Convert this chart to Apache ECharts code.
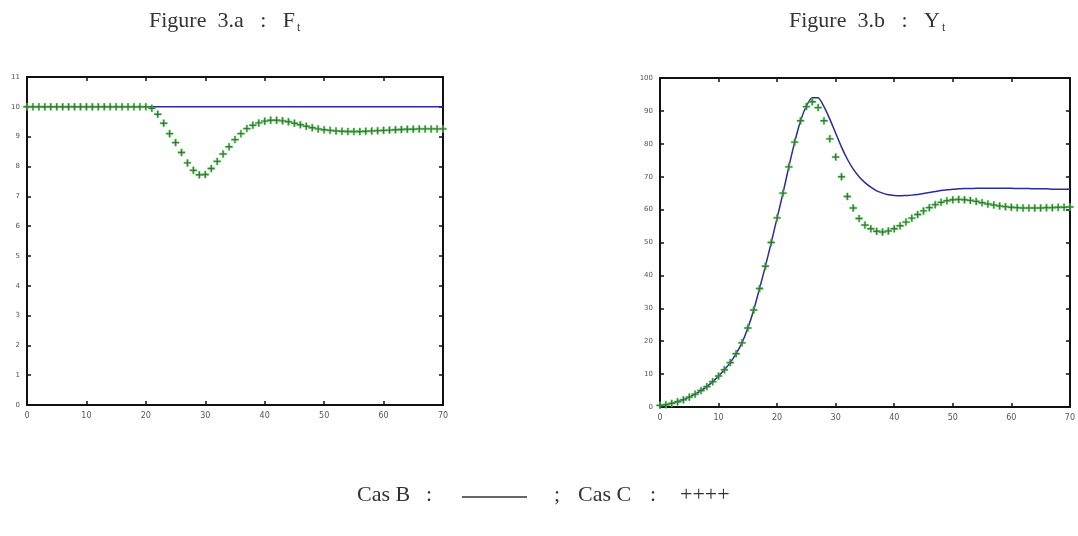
<!DOCTYPE html>
<html>
<head>
<meta charset="utf-8">
<script src="https://cdn.jsdelivr.net/npm/echarts@6/dist/echarts.min.js"></script>
<style>
  html, body { margin: 0; padding: 0; background: #fff; }
  #main { width: 1078px; height: 536px; }
</style>
</head>
<body>
<div id="main"></div>
<script>
// temps t = 0..70
const tValues = [0,1,2,3,4,5,6,7,8,9,10,11,12,13,14,15,16,17,18,19,20,21,22,23,24,25,26,27,28,29,30,
  31,32,33,34,35,36,37,38,39,40,41,42,43,44,45,46,47,48,49,50,51,52,53,54,55,56,57,58,59,60,
  61,62,63,64,65,66,67,68,69,70]
const xTicks = [0, 10, 20, 30, 40, 50, 60, 70]

// Figure 3.a : F_t
const fCasB = [10,10,10,10,10,10,10,10,10,10,10,10,10,10,10,10,10,10,10,10,10,10,10,10,10,10,10,10,10,10,10,
  10,10,10,10,10,10,10,10,10,10,10,10,10,10,10,10,10,10,10,10,10,10,10,10,10,10,10,10,10,10,
  10,10,10,10,10,10,10,10,10,10]
const fCasC = [10,10,10,10,10,10,10,10,10,10,10,10,10,10,10,10,10,10,10,10,10,
  9.95,9.75,9.45,9.1,8.8,8.47,8.12,7.87,7.72,7.73,
  7.93,8.17,8.42,8.66,8.9,9.1,9.27,9.38,9.46,9.52,
  9.55,9.55,9.53,9.5,9.45,9.4,9.35,9.3,9.26,9.23,
  9.21,9.19,9.18,9.17,9.17,9.17,9.18,9.19,9.2,9.21,
  9.22,9.23,9.24,9.25,9.25,9.26,9.26,9.26,9.26,9.26]

// Figure 3.b : Y_t
const yCasB = [0.5,0.7,1.1,1.6,2.2,3.0,3.9,5.0,6.2,7.7,9.4,
  11.3,13.5,16.2,19.5,24,29.5,36,42.8,50,57.5,
  65,73,80.5,87,91.5,94,94,91.3,87.5,83.2,
  79,75.3,72.3,70,68.2,66.8,65.7,65,64.5,64.3,
  64.2,64.3,64.4,64.6,64.9,65.2,65.5,65.8,66,66.2,
  66.3,66.4,66.4,66.5,66.5,66.5,66.5,66.5,66.5,66.5,
  66.4,66.4,66.4,66.3,66.3,66.3,66.2,66.2,66.2,66.2]
const yCasC = [0.5,0.7,1.1,1.6,2.2,3.0,3.9,5.0,6.2,7.7,9.4,
  11.3,13.5,16.2,19.5,24,29.5,36,42.8,50,57.5,
  65,73,80.5,87,91.3,92.8,91,87,81.5,76,
  70,64,60.5,57.3,55.3,54.2,53.4,53.2,53.5,54.2,
  55.1,56.2,57.4,58.5,59.6,60.6,61.5,62.2,62.7,63,
  63.1,63,62.8,62.5,62.1,61.7,61.4,61.1,60.9,60.7,
  60.6,60.5,60.5,60.5,60.5,60.6,60.6,60.7,60.7,60.8]

const plus = 'path://M4,0H6V4H10V6H6V10H4V6H0V4H4Z'
const serif = 'Liberation Serif'

function pairs(vals) {
  return tValues.map((t, i) => [t, vals[i]])
}

function xAxes(gi) {
  const base = {
    gridIndex: gi, type: 'value', min: 0, max: 70, interval: 10,
    axisLine: { onZero: false, lineStyle: { color: '#111', width: 2 } },
    axisTick: { inside: true, length: 4, lineStyle: { color: '#111', width: 1.5 } },
    splitLine: { show: false }
  }
  return [
    Object.assign({}, base, {
      position: 'bottom',
      axisLabel: { fontSize: 8, color: '#555', margin: 7, fontFamily: 'DejaVu Sans',
        formatter: v => xTicks.includes(v) ? String(v) : '' }
    }),
    Object.assign({}, base, { position: 'top', axisLabel: { show: false } })
  ]
}

function yAxes(gi, max, step) {
  const base = {
    gridIndex: gi, type: 'value', min: 0, max: max, interval: step,
    axisLine: { show: true, onZero: false, lineStyle: { color: '#111', width: 2 } },
    axisTick: { show: true, inside: true, length: 4, lineStyle: { color: '#111', width: 1.5 } },
    splitLine: { show: false }
  }
  return [
    Object.assign({}, base, {
      position: 'left',
      axisLabel: { fontSize: 7, color: '#555', margin: 7, fontFamily: 'DejaVu Sans' }
    }),
    Object.assign({}, base, { position: 'right', axisLabel: { show: false } })
  ]
}

const titleRich = {
  base: { fontFamily: serif, fontSize: 22, color: '#333', lineHeight: 26 },
  sub: { fontFamily: serif, fontSize: 12, color: '#333', verticalAlign: 'bottom', lineHeight: 26, padding: [9, 0, 0, 2] }
}

function txt(x, y, text, rich) {
  return {
    type: 'text', left: x, top: y,
    style: { text: text, fill: '#333', font: '22px "' + serif + '"', rich: rich }
  }
}

const chart = echarts.init(document.getElementById('main'))
chart.setOption({
  animation: false,
  backgroundColor: '#fff',
  graphic: [
    txt(149, 10, '{base|Figure  3.a   :   F}{sub|t}', titleRich),
    txt(789, 10, '{base|Figure  3.b   :   Y}{sub|t}', titleRich),
    txt(357, 484, 'Cas B'),
    txt(426, 484, ':'),
    { type: 'line', shape: { x1: 462, y1: 497, x2: 527, y2: 497 }, style: { stroke: '#333', lineWidth: 1.5 } },
    txt(554, 484, ';'),
    txt(578, 484, 'Cas C'),
    txt(650, 484, ':'),
    txt(680, 484, '++++')
  ],
  grid: [
    { left: 27, top: 77, width: 416, height: 328 },
    { left: 660, top: 78, width: 413, height: 329 }
  ],
  xAxis: xAxes(0).concat(xAxes(1)),
  yAxis: yAxes(0, 11, 1).concat(yAxes(1, 100, 10)),
  series: [
    { name: 'Cas B', type: 'line', xAxisIndex: 0, yAxisIndex: 0, data: pairs(fCasB),
      showSymbol: false, lineStyle: { color: '#2b2b9c', width: 1.5 } },
    { name: 'Cas C', type: 'line', xAxisIndex: 0, yAxisIndex: 0, data: pairs(fCasC),
      symbol: plus, symbolSize: 7, lineStyle: { width: 0, opacity: 0 },
      itemStyle: { color: '#276f27', borderColor: '#55b855', borderWidth: 0.6 } },
    { name: 'Cas B', type: 'line', xAxisIndex: 2, yAxisIndex: 2, data: pairs(yCasB),
      smooth: 0.2, showSymbol: false, lineStyle: { color: '#2b2b9c', width: 1.5 } },
    { name: 'Cas C', type: 'line', xAxisIndex: 2, yAxisIndex: 2, data: pairs(yCasC),
      symbol: plus, symbolSize: 7, lineStyle: { width: 0, opacity: 0 },
      itemStyle: { color: '#276f27', borderColor: '#55b855', borderWidth: 0.6 } }
  ]
})
</script>
</body>
</html>
